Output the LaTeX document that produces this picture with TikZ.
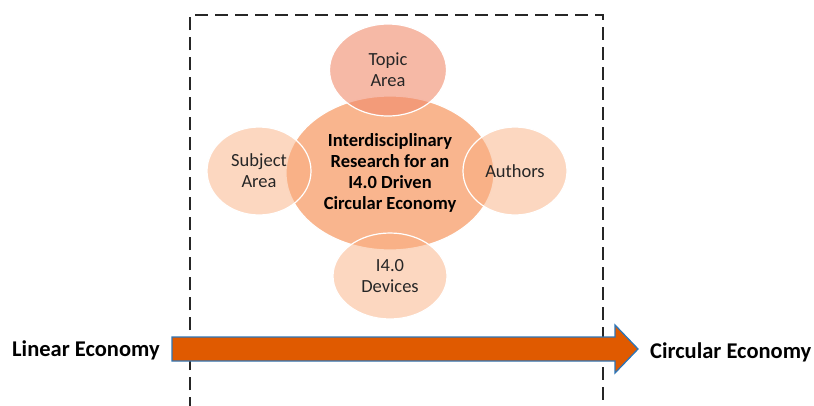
\documentclass[tikz,border=0pt]{standalone}
\usepackage{fontspec}
\setmainfont{Carlito}
\usetikzlibrary{shapes.geometric}
\definecolor{topicc}{HTML}{F08A6B}
\definecolor{centerc}{HTML}{F9B58E}
\definecolor{satc}{HTML}{F9AF81}
\definecolor{arrowc}{HTML}{E05A00}
\definecolor{arrowedge}{HTML}{2E75B6}
\tikzset{
  blob/.style={ellipse, draw=white, line width=1.2pt, inner sep=0pt, align=center,
    font=\fontsize{18.5}{21}\selectfont, text=black!85},
  sat/.style={blob, fill=satc, fill opacity=0.5, text opacity=1},
  topicblob/.style={blob, fill=topicc, fill opacity=0.6, text opacity=1},
  hub/.style={blob, fill=centerc, font=\fontsize{18.5}{21}\selectfont\bfseries, text=black},
  econ/.style={font=\fontsize{22.5}{26}\selectfont\bfseries, text=black, inner sep=0pt},
  frame/.style={line width=1.8pt, black!85, dash pattern=on 13pt off 7pt},
}
\begin{document}
\begin{tikzpicture}[x=1pt,y=-1pt]
\useasboundingbox (0,0) rectangle (814,405);
% dashed frame (open at bottom)
\coordinate (fbl) at (190,410);
\coordinate (ftl) at (190,15);
\coordinate (ftr) at (603,15);
\coordinate (fbr) at (603,410);
\draw[frame] (fbl) -- (ftl) -- (ftr) -- (fbr);
% central hub
\node[hub, minimum width=208pt, minimum height=154pt] (hub) at (390,173)
  {Interdisciplinary\\Research for an\\I4.0 Driven\\Circular Economy};
% satellites
\node[topicblob, minimum width=117pt, minimum height=92pt] (topic) at (388,70) {Topic\\Area};
\node[sat, minimum width=104pt, minimum height=88pt] (subject) at (259,171) {Subject\\Area};
\node[sat, minimum width=104pt, minimum height=88pt] (authors) at (515,171) {Authors};
\node[sat, minimum width=114pt, minimum height=86pt] (devices) at (390,276) {I4.0\\Devices};
% block arrow
\node[econ, anchor=west] (linear) at (12,350) {Linear Economy};
\node[econ, anchor=west] (circular) at (650,352) {Circular Economy};
\coordinate (a1) at (172,337);
\coordinate (a2) at (615,337);
\coordinate (a3) at (615,325);
\coordinate (a4) at (638,349);
\coordinate (a5) at (615,373);
\coordinate (a6) at (615,361);
\coordinate (a7) at (172,361);
\draw[fill=arrowc, draw=arrowedge, line width=1.3pt, line join=miter]
  (a1) -- (a2) -- (a3) -- (a4) -- (a5) -- (a6) -- (a7) -- cycle;
\end{tikzpicture}
\end{document}
